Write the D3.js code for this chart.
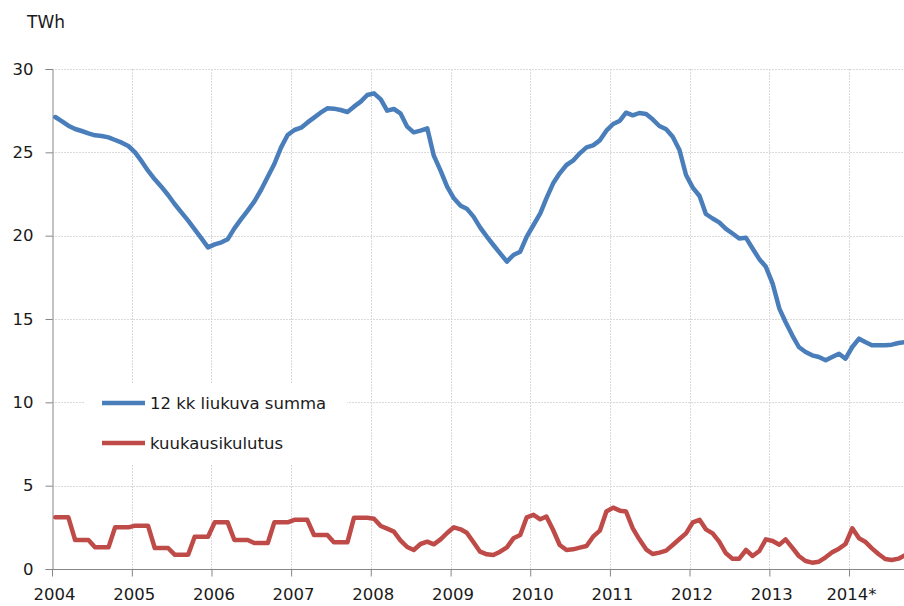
<!DOCTYPE html>
<html>
<head>
<meta charset="utf-8">
<script src="https://cdn.jsdelivr.net/npm/d3@7"></script>
<style>
  html, body { margin: 0; padding: 0; background: #fff; }
  svg { display: block; }
  text { font-family: "DejaVu Sans", Verdana, sans-serif; fill: #1a1a1a; }
</style>
</head>
<body>
<svg id="chart" width="904" height="606"></svg>
<script>
// ---- data ----
const unitLabel = "TWh";
const seriesNames = ["12 kk liukuva summa", "kuukausikulutus"];
const tickYears = [2004, 2005, 2006, 2007, 2008, 2009, 2010, 2011, 2012, 2013, 2014];
const tickLabels = ["2004", "2005", "2006", "2007", "2008", "2009", "2010", "2011", "2012", "2013", "2014*"];
const yTicks = [0, 5, 10, 15, 20, 25, 30];
// monthly categories: Jan 2004 .. Sep 2014
const months = d3.timeMonth.range(new Date(2004, 0, 1), new Date(2014, 9, 1));

const rolling12 = [
  27.12, 26.86, 26.60, 26.40, 26.28, 26.14, 26.02, 25.98, 25.90, 25.74, 25.58, 25.38,
  25.00, 24.44, 23.90, 23.38, 22.94, 22.44, 21.90, 21.40, 20.90, 20.38, 19.84, 19.30,
  19.48, 19.60, 19.78, 20.44, 20.98, 21.50, 22.04, 22.74, 23.54, 24.30, 25.30, 26.04,
  26.34, 26.48, 26.78, 27.08, 27.38, 27.64, 27.62, 27.54, 27.42, 27.74, 28.04, 28.44,
  28.54, 28.18, 27.50, 27.60, 27.34, 26.54, 26.20, 26.30, 26.44, 24.80, 23.90, 22.94,
  22.24, 21.80, 21.62, 21.14, 20.50, 19.94, 19.44, 18.94, 18.44, 18.84, 19.04, 19.94,
  20.64, 21.34, 22.24, 23.14, 23.74, 24.24, 24.50, 24.94, 25.30, 25.42, 25.72, 26.30,
  26.70, 26.90, 27.38, 27.22, 27.36, 27.30, 26.98, 26.58, 26.38, 25.94, 25.14, 23.64,
  22.88, 22.38, 21.30, 21.03, 20.80, 20.41, 20.13, 19.83, 19.87, 19.23, 18.59, 18.13,
  17.12, 15.62, 14.82, 14.02, 13.32, 13.02, 12.82, 12.72, 12.52, 12.72, 12.92, 12.62,
  13.32, 13.82, 13.62, 13.42, 13.42, 13.42, 13.46, 13.56, 13.62
];

const monthly = [
  3.10, 3.10, 3.10, 1.74, 1.74, 1.74, 1.30, 1.30, 1.30, 2.50, 2.50, 2.50,
  2.60, 2.60, 2.60, 1.26, 1.26, 1.26, 0.86, 0.86, 0.86, 1.94, 1.94, 1.94,
  2.80, 2.80, 2.80, 1.74, 1.74, 1.74, 1.56, 1.56, 1.56, 2.80, 2.80, 2.80,
  2.95, 2.95, 2.95, 2.04, 2.04, 2.04, 1.60, 1.60, 1.60, 3.07, 3.07, 3.07,
  3.02, 2.58, 2.42, 2.24, 1.72, 1.32, 1.14, 1.50, 1.64, 1.48, 1.78, 2.16,
  2.50, 2.38, 2.18, 1.60, 1.04, 0.88, 0.84, 1.04, 1.30, 1.84, 2.04, 3.10,
  3.25, 2.98, 3.15, 2.34, 1.44, 1.14, 1.18, 1.28, 1.38, 1.94, 2.30, 3.45,
  3.68, 3.50, 3.45, 2.44, 1.78, 1.18, 0.90, 0.98, 1.10, 1.44, 1.80, 2.14,
  2.80, 2.95, 2.38, 2.14, 1.64, 0.94, 0.62, 0.62, 1.14, 0.78, 1.08, 1.78,
  1.68, 1.46, 1.78, 1.28, 0.78, 0.48, 0.38, 0.44, 0.70, 1.00, 1.22, 1.50,
  2.44, 1.84, 1.64, 1.24, 0.90, 0.60, 0.54, 0.62, 0.84
];

const colors = ["#4a7ebb", "#be4b48"];

// ---- layout ----
const W = 904, H = 606;
const plotLeft = 52, plotTop = 69, plotBottom = 569;
const fontSize = 16.5;

const svg = d3.select("#chart");
svg.append("rect").attr("width", W).attr("height", H).attr("fill", "#fff");

const x = d3.scaleTime()
  .domain([new Date(2004, 0, 1), new Date(2014, 0, 1)])
  .range([plotLeft, 849]);
const y = d3.scaleLinear().domain([0, 30]).range([plotBottom, plotTop]);

const midMonth = d => new Date(d.getFullYear(), d.getMonth(), 16);
const yearDates = tickYears.map(yr => new Date(yr, 0, 1));

// gridlines
const grid = svg.append("g").attr("stroke", "#dadada").attr("stroke-width", 1)
  .attr("stroke-dasharray", "2,1");
grid.selectAll("line.h").data(yTicks.filter(v => v > 0)).join("line")
  .attr("x1", plotLeft).attr("x2", W)
  .attr("y1", d => Math.round(y(d)) + 0.5).attr("y2", d => Math.round(y(d)) + 0.5);
grid.selectAll("line.v").data(yearDates.slice(1)).join("line")
  .attr("x1", d => Math.round(x(d)) + 0.5).attr("x2", d => Math.round(x(d)) + 0.5)
  .attr("y1", plotTop).attr("y2", plotBottom);

// axes
const yAxis = d3.axisLeft(y).tickValues(yTicks).tickSize(7).tickPadding(12);
const gy = svg.append("g").attr("transform", `translate(${plotLeft + 0.5},0)`).call(yAxis);
gy.select(".domain").attr("stroke", "#868686");
gy.selectAll(".tick line").attr("stroke", "#868686");
gy.selectAll(".tick text").attr("font-size", fontSize).attr("font-family", "DejaVu Sans").attr("fill", "#1a1a1a");

const xAxis = d3.axisBottom(x).tickValues(yearDates).tickSize(7).tickPadding(12)
  .tickFormat((d, i) => tickLabels[i]);
const gx = svg.append("g").attr("transform", `translate(0,${plotBottom + 0.5})`).call(xAxis);
gx.select(".domain").attr("stroke", "#868686").attr("d", `M${plotLeft},0H${W}`);
gx.selectAll(".tick line").attr("stroke", "#868686");
gx.selectAll(".tick text").attr("font-size", fontSize).attr("font-family", "DejaVu Sans")
  .attr("fill", "#1a1a1a").attr("dx", 2);

// unit label
svg.append("text").attr("x", 27).attr("y", 28).attr("font-size", 17).text(unitLabel);

// lines
const line = d3.line().x((d, i) => x(midMonth(months[i]))).y(d => y(d));
[rolling12, monthly].forEach((vals, k) => {
  svg.append("path").datum(vals)
    .attr("d", line)
    .attr("fill", "none")
    .attr("stroke", colors[k])
    .attr("stroke-width", 4.5)
    .attr("stroke-linejoin", "round")
    .attr("stroke-linecap", "round");
});

// legend
const lg = svg.append("g");
lg.append("rect").attr("x", 84).attr("y", 384).attr("width", 263).attr("height", 81).attr("fill", "#fff");
seriesNames.forEach((name, k) => {
  const yy = 403 + k * 40;
  lg.append("line").attr("x1", 102).attr("x2", 145).attr("y1", yy).attr("y2", yy)
    .attr("stroke", colors[k]).attr("stroke-width", 4.5);
  lg.append("text").attr("x", 150).attr("y", yy).attr("dy", "0.36em")
    .attr("font-size", fontSize).text(name);
});
</script>
</body>
</html>
